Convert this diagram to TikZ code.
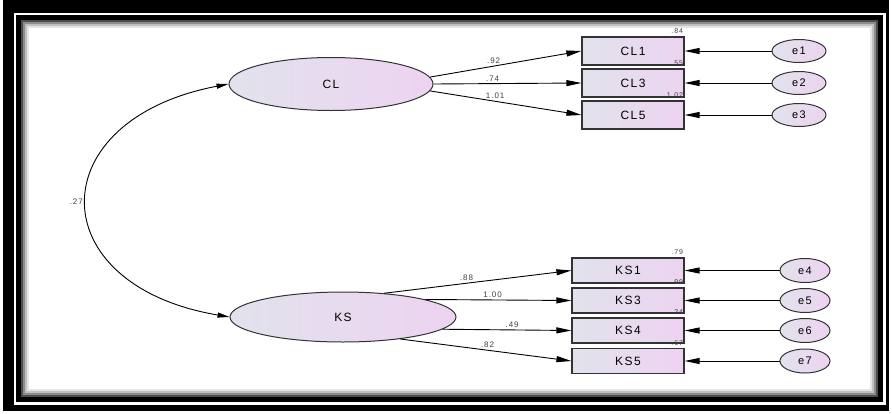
\documentclass[tikz,border=0pt]{standalone}
\usepackage{fontspec}
\setmainfont{Liberation Sans}
\newfontfamily\amosfont[LetterSpace=12]{Liberation Sans}
\usetikzlibrary{arrows.meta,shapes.geometric}

\definecolor{fillleft}{RGB}{226,226,236}
\definecolor{fillright}{RGB}{237,211,241}

\tikzset{
	latent/.style={ellipse, draw=black!80, line width=1pt, left color=fillleft, right color=fillright, inner sep=0pt, font=\amosfont\fontsize{12}{12}\selectfont},
	obs/.style={rectangle, draw=black!80, line width=1.2pt, left color=fillleft, right color=fillright, inner sep=0pt, font=\amosfont\fontsize{12}{12}\selectfont},
	err/.style={ellipse, draw=black!80, line width=1pt, left color=fillleft, right color=fillright, inner sep=0pt, font=\amosfont\fontsize{11}{11}\selectfont},
	load/.style={-{Triangle[length=15pt,width=6pt]}, line width=0.9pt},
	coef/.style={font=\amosfont\fontsize{8}{8}\selectfont, inner sep=2pt, text=black!75},
	rsq/.style={font=\amosfont\fontsize{7}{7}\selectfont, inner sep=0.5pt, text=black!75}
}

\begin{document}
\begin{tikzpicture}[x=1pt,y=1pt]
	\useasboundingbox (0,0) rectangle (892,-413);

	% frame
	\fill[black] (3,0) rectangle (889,-411);
	\fill[white] (14,-13) rectangle (886,-405);
	\fill[black] (16,-15) rectangle (883,-402);
	\foreach \d/\g in {0/70,2/45,4/25,6/10,8/0}
		\fill[black!\g] ({21+\d},{-20-\d}) rectangle ({878-\d},{-397+\d});

	% latent variables
	\node[latent, minimum width=204pt, minimum height=53pt] (CL) at (331,-84) {CL};
	\node[latent, minimum width=226pt, minimum height=50pt] (KS) at (343,-317) {KS};

	% indicators
	\node[obs, minimum width=102pt, minimum height=28pt] (CL1) at (633,-51) {CL1};
	\node[obs, minimum width=102pt, minimum height=28pt] (CL3) at (633,-83) {CL3};
	\node[obs, minimum width=102pt, minimum height=28pt] (CL5) at (633,-115) {CL5};

	\node[obs, minimum width=112pt, minimum height=25pt] (KS1) at (628,-270.5) {KS1};
	\node[obs, minimum width=112pt, minimum height=25pt] (KS3) at (628,-300.5) {KS3};
	\node[obs, minimum width=112pt, minimum height=25pt] (KS4) at (628,-330.5) {KS4};
	\node[obs, minimum width=112pt, minimum height=25pt] (KS5) at (628,-361) {KS5};

	% errors
	\node[err, minimum width=54pt, minimum height=23pt] (e1) at (799,-51) {e1};
	\node[err, minimum width=54pt, minimum height=23pt] (e2) at (799,-83) {e2};
	\node[err, minimum width=54pt, minimum height=23pt] (e3) at (799,-115) {e3};
	\node[err, minimum width=50pt, minimum height=24pt] (e4) at (805,-270.5) {e4};
	\node[err, minimum width=50pt, minimum height=24pt] (e5) at (805,-300.5) {e5};
	\node[err, minimum width=50pt, minimum height=24pt] (e6) at (805,-330.5) {e6};
	\node[err, minimum width=50pt, minimum height=24pt] (e7) at (805,-361) {e7};

	% loadings
	\draw[load] (CL.4) -- node[coef, above, pos=.42] {.92} (CL1.west);
	\draw[load] (CL.east) -- node[coef, above, pos=.4] {.74} (CL3.west);
	\draw[load] (CL.-4) -- node[coef, above, pos=.43] {1.01} (CL5.west);

	\draw[load] (KS.30) -- node[coef, above, pos=.44] {.88} (KS1.west);
	\draw[load] (KS.12) -- node[coef, above, pos=.46] {1.00} (KS3.west);
	\draw[load] (KS.-7) -- node[coef, above, pos=.54] {.49} (KS4.west);
	\draw[load] (KS.-21) -- node[coef, above, pos=.51] {.82} (KS5.west);

	% error paths
	\foreach \e/\v in {e1/CL1,e2/CL3,e3/CL5,e4/KS1,e5/KS3,e6/KS4,e7/KS5}
		\draw[load] (\e) -- (\v.east);

	% covariance
	\draw[{Triangle[length=12pt,width=5pt]}-{Triangle[length=12pt,width=5pt]}, line width=0.9pt]
		(CL.west) .. controls (40,-120) and (40,-285) .. node[coef, left, pos=.5, xshift=-2pt] {.27} (KS.west);

	% squared multiple correlations
	\node[rsq, anchor=south east] (r1) at ([xshift=-1pt,yshift=2pt]CL1.north east) {.84};
	\node[rsq, anchor=south east] (r3) at ([xshift=-1pt,yshift=2pt]CL3.north east) {.55};
	\node[rsq, anchor=south east] (r5) at ([xshift=-1pt,yshift=2pt]CL5.north east) {1.02};
	\node[rsq, anchor=south east] (q1) at ([xshift=-1pt,yshift=2pt]KS1.north east) {.79};
	\node[rsq, anchor=south east] (q3) at ([xshift=-1pt,yshift=2pt]KS3.north east) {.99};
	\node[rsq, anchor=south east] (q4) at ([xshift=-1pt,yshift=2pt]KS4.north east) {.24};
	\node[rsq, anchor=south east] (q5) at ([xshift=-1pt,yshift=2pt]KS5.north east) {.67};
\end{tikzpicture}
\end{document}
